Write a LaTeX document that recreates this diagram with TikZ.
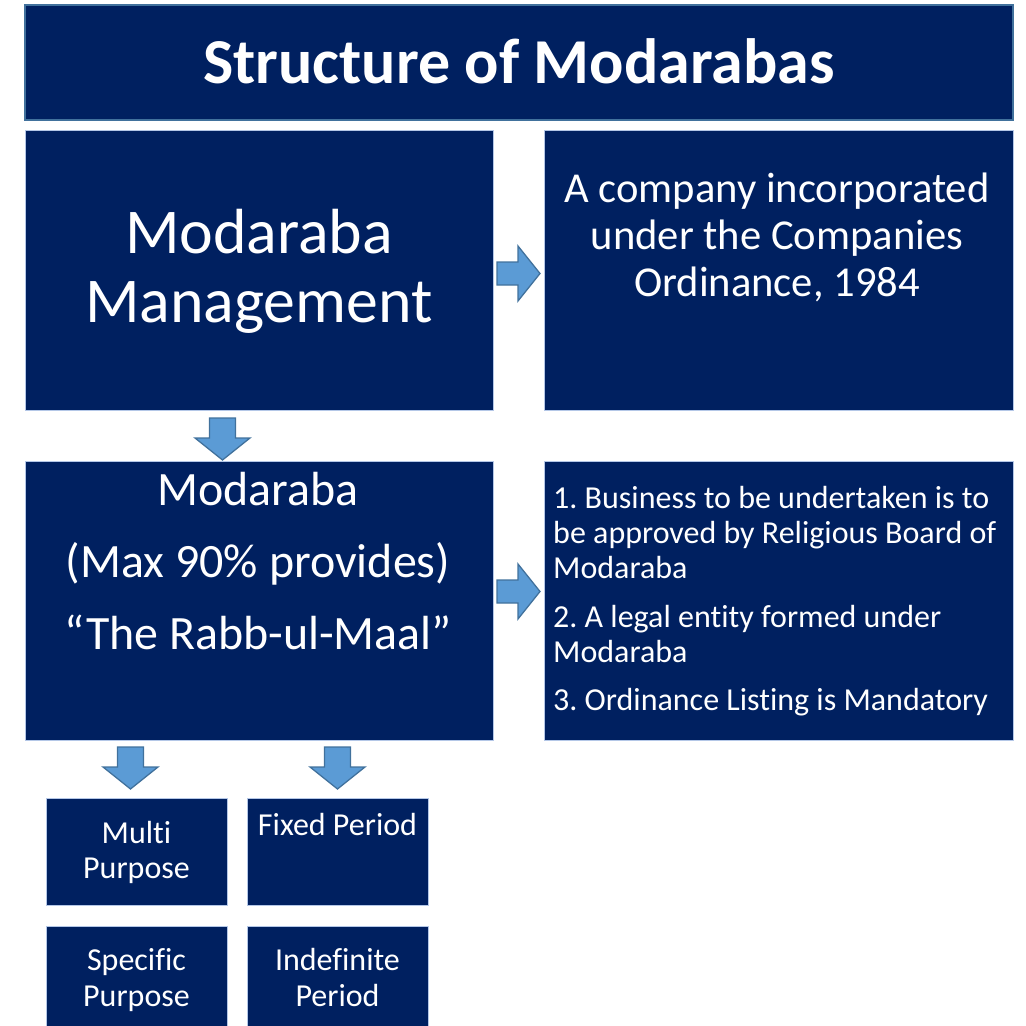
\documentclass[tikz,border=0pt]{standalone}
\usepackage{fontspec}
\setmainfont{Carlito}[Ligatures={NoCommon,NoContextual}]
\frenchspacing
\definecolor{navy}{HTML}{002060}
\definecolor{arrfill}{HTML}{5B9BD5}
\definecolor{arrline}{HTML}{41719C}
\definecolor{boxline}{HTML}{B4C7E7}
\tikzset{
  box/.style={fill=navy, draw=boxline, line width=0.8pt},
  titlebox/.style={fill=navy, draw=arrline, line width=1.6pt},
  txt/.style={text=white, inner sep=0pt, anchor=base},
  barrow/.style={fill=arrfill, draw=arrline, line width=1.3pt, line join=miter},
}
\newcommand\rarr[3]{% name, x0, yc
  \draw[barrow] (#2,#3-11.5) -- (#2+21,#3-11.5) -- (#2+21,#3-27.5) -- (#2+43,#3)
    -- (#2+21,#3+27.5) -- (#2+21,#3+11.5) -- (#2,#3+11.5) -- cycle;
  \coordinate (#1) at (#2+21,#3);}
\newcommand\darr[4]{% name, xc, y0, y-head-start
  \draw[barrow] (#2-13,#3) -- (#2+13,#3) -- (#2+13,#4) -- (#2+27.5,#4) -- (#2,#4+22)
    -- (#2-27.5,#4) -- (#2-13,#4) -- (#2-13,#3) -- cycle;
  \coordinate (#1) at (#2,#4);}
\begin{document}
\begin{tikzpicture}[x=1pt,y=-1pt]
\useasboundingbox (0,0) rectangle (1026,1026);
% title
\draw[titlebox] (25,5) rectangle (1013,120);
\node (title) [txt, font=\fontsize{64}{70}\selectfont\bfseries] at (519,83) {Structure of Modarabas};
% boxes
\path[box] (25,130) rectangle (493,410);
\coordinate (mm) at (259,270);
\path[box] (544,130) rectangle (1013,410);
\coordinate (co) at (778,270);
\path[box] (25,461) rectangle (493,740);
\coordinate (md) at (259,600);
\path[box] (544,461) rectangle (1013,740);
\coordinate (rl) at (778,600);
\path[box] (46,798) rectangle (227,905);
\path[box] (247,798) rectangle (428,905);
\path[box] (46,926) rectangle (227,1030);
\path[box] (247,926) rectangle (428,1030);
% texts
\begin{scope}[every node/.style={txt, font=\fontsize{63.8}{69}\selectfont}]
\node (mm1) at (259,253) {Modaraba};
\node (mm2) at (259,322) {Management};
\end{scope}
\begin{scope}[every node/.style={txt, font=\fontsize{42.6}{47}\selectfont}]
\node (co1) at (777,202) {A company incorporated};
\node (co2) at (777,249.5) {under the Companies};
\node (co3) at (777,296) {Ordinance, 1984};
\end{scope}
\begin{scope}[every node/.style={txt, font=\fontsize{47.9}{55}\selectfont}]
\node (md1) at (258,505) {Modaraba};
\node (md2) at (258,577) {(Max 90\% provides)};
\node (md3) at (258,649) {“The Rabb-ul-Maal”};
\end{scope}
\begin{scope}[every node/.style={txt, anchor=base west, font=\fontsize{32}{35}\selectfont}]
\node (r1) at (553,508) {1. Business to be undertaken is to};
\node (r2) at (553,543) {be approved by Religious Board of};
\node (r3) at (553,578) {Modaraba};
\node (r4) at (553,627) {2. A legal entity formed under};
\node (r5) at (553,662) {Modaraba};
\node (r6) at (553,710) {3. Ordinance Listing is Mandatory};
\end{scope}
\begin{scope}[every node/.style={txt, font=\fontsize{32}{35}\selectfont}]
\node (s1) at (136.5,843) {Multi};
\node (s2) at (136.5,878) {Purpose};
\node (s3) at (337.5,835) {Fixed Period};
\node (s4) at (136.5,970) {Specific};
\node (s5) at (136.5,1006) {Purpose};
\node (s6) at (337.5,970) {Indefinite};
\node (s7) at (337.5,1006) {Period};
\end{scope}
% arrows
\rarr{a1}{497}{273.5}
\rarr{a2}{497}{591.5}
\darr{a3}{222.5}{418}{438}
\darr{a4}{130.5}{747}{767}
\darr{a5}{337.5}{747}{767}
\end{tikzpicture}
\end{document}
